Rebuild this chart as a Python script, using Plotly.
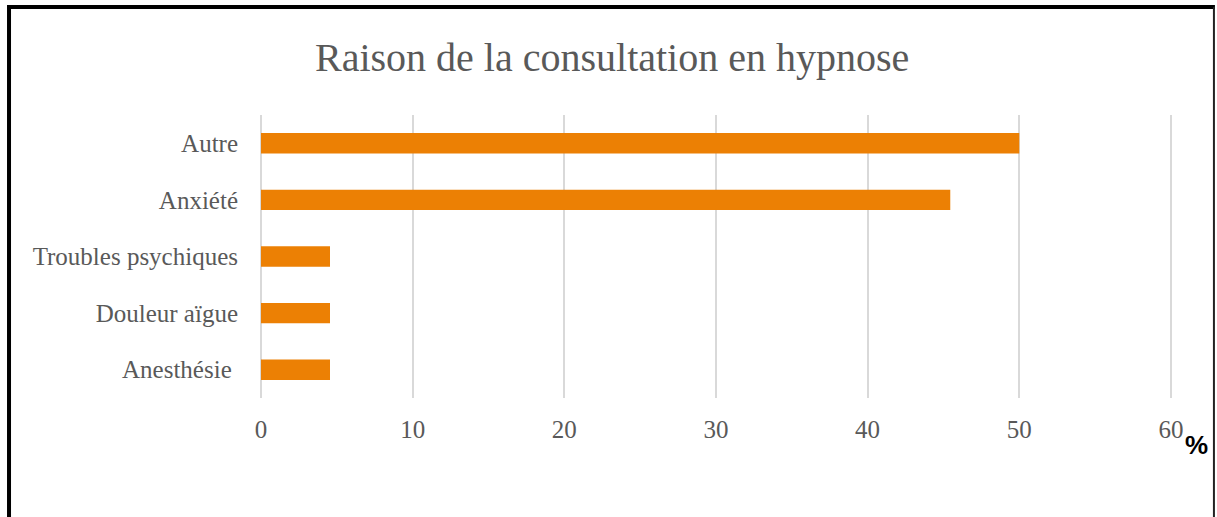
import plotly.graph_objects as go

categories = ['Anesthésie\u00a0', 'Douleur aïgue', 'Troubles psychiques', 'Anxiété', 'Autre']
values = [4.55, 4.55, 4.55, 45.45, 50]
x_ticks = [0, 10, 20, 30, 40, 50, 60]

W, H = 1217, 517
X_MAX = 60.4
L, T, B = 261, 115, 398  # plot area in pixels
R = L + 910 * X_MAX / 60  # so that 60 lands at x=1171


def px(x):
    return (x - L) / (R - L)


def py(y):
    return (B - y) / (B - T)


fig = go.Figure()
fig.add_trace(go.Bar(
    x=values, y=categories, orientation='h',
    marker=dict(color='#ec8004', line=dict(width=0)),
    hoverinfo='x+y'))

txt_font = dict(family='Liberation Serif, DejaVu Serif, serif', color='#595959')

fig.update_layout(
    width=W, height=H,
    margin=dict(l=L, r=W - R, t=T, b=H - B, pad=0),
    paper_bgcolor='#ffffff', plot_bgcolor='#ffffff',
    showlegend=False,
    bargap=0.64,
    title=dict(text='Raison de la consultation en hypnose',
               font=dict(size=40, **txt_font),
               xref='container', x=0.503, xanchor='center',
               yref='container', y=1 - 57 / H, yanchor='middle'),
    xaxis=dict(range=[0, X_MAX], tickvals=x_ticks, showgrid=True,
               gridcolor='#d9d9d9', gridwidth=1.5,
               zeroline=True, zerolinecolor='#d9d9d9', zerolinewidth=1.5,
               showline=False, ticks='', ticklabelstandoff=14, fixedrange=True,
               tickfont=dict(size=25, **txt_font)),
    yaxis=dict(showgrid=False, zeroline=False, showline=False, ticks='',
               ticklabelstandoff=22, fixedrange=True,
               tickfont=dict(size=25, **txt_font)),
    shapes=[
        # frame around the page
        dict(type='line', xref='paper', yref='paper', x0=px(9), x1=px(9), y0=py(5), y1=py(540),
             line=dict(color='#000000', width=4)),
        dict(type='line', xref='paper', yref='paper', x0=px(7), x1=px(1215), y0=py(7), y1=py(7),
             line=dict(color='#000000', width=4)),
        dict(type='line', xref='paper', yref='paper', x0=px(1214), x1=px(1214), y0=py(7), y1=py(540),
             line=dict(color='#222222', width=2)),
    ],
    annotations=[
        dict(text='<b>%</b>', xref='paper', yref='paper', x=px(1197), y=py(445),
             xanchor='center', yanchor='middle', showarrow=False,
             font=dict(family='Liberation Sans, Arial, sans-serif', size=26, color='#000000')),
    ],
)

fig.write_html('out.html', config={'displayModeBar': False},
               post_script="document.body.style.margin='0';")
